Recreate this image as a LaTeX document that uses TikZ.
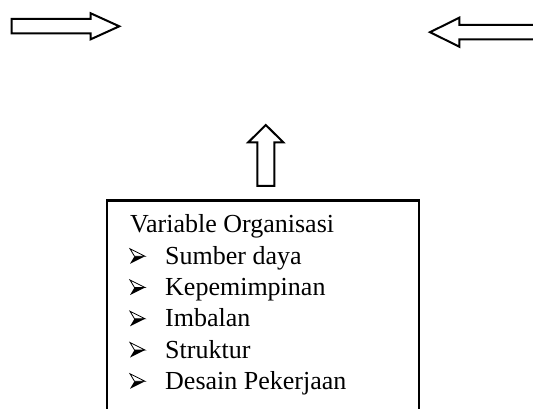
\documentclass[tikz,border=0pt]{standalone}
\usepackage{fontspec}
\setmainfont{Liberation Serif}
\begin{document}
\begin{tikzpicture}[x=1pt,y=-1pt,
  blockarrow/.style={draw=black, line width=2pt, fill=white, line join=miter},
  boxline/.style={draw=black, line width=2.2pt},
  lbl/.style={anchor=base west, inner sep=0pt, font=\fontsize{26}{31}\selectfont},
  arrbullet/.pic={
    \draw[line width=0.8pt, fill=white, line join=miter] (0,-7.5) -- (15,0) -- (4.5,0) -- cycle;
    \fill (4.5,0) -- (15,0) -- (0,7.5) -- cycle;
  }]
\useasboundingbox (0,0) rectangle (533,409);
\clip (0,0) rectangle (533,409);
% left block arrow
\draw[blockarrow] (11.7,19) -- (90.7,19) -- (90.7,13.3) -- (119.3,26.3) -- (90.7,39.3) -- (90.7,33.3) -- (11.7,33.3) -- cycle;
% right block arrow (open at right page edge)
\draw[blockarrow] (545,25) -- (459.3,25) -- (459.3,17.7) -- (430,32.2) -- (459.3,46.7) -- (459.3,39.3) -- (545,39.3) -- cycle;
% up block arrow
\draw[blockarrow] (257.3,186) -- (257.3,142.3) -- (248.3,142.3) -- (265.8,125) -- (283.3,142.3) -- (274.3,142.3) -- (274.3,186) -- cycle;
% box, open at bottom
\draw[boxline] (107,420) -- (107,200.5) -- (419,200.5) -- (419,420);
% texts
\node[lbl] (title) at (130,233) {Variable Organisasi};
\node[lbl] (i1) at (165,264.25) {Sumber daya};
\node[lbl] (i2) at (165,295.5) {Kepemimpinan};
\node[lbl] (i3) at (165,326.75) {Imbalan};
\node[lbl] (i4) at (165,358) {Struktur};
\node[lbl] (i5) at (165,389.25) {Desain Pekerjaan};
% bullets
\pic at (130,256.25) {arrbullet};
\pic at (130,287.5) {arrbullet};
\pic at (130,318.75) {arrbullet};
\pic at (130,350) {arrbullet};
\pic at (130,381.25) {arrbullet};
\end{tikzpicture}
\end{document}
